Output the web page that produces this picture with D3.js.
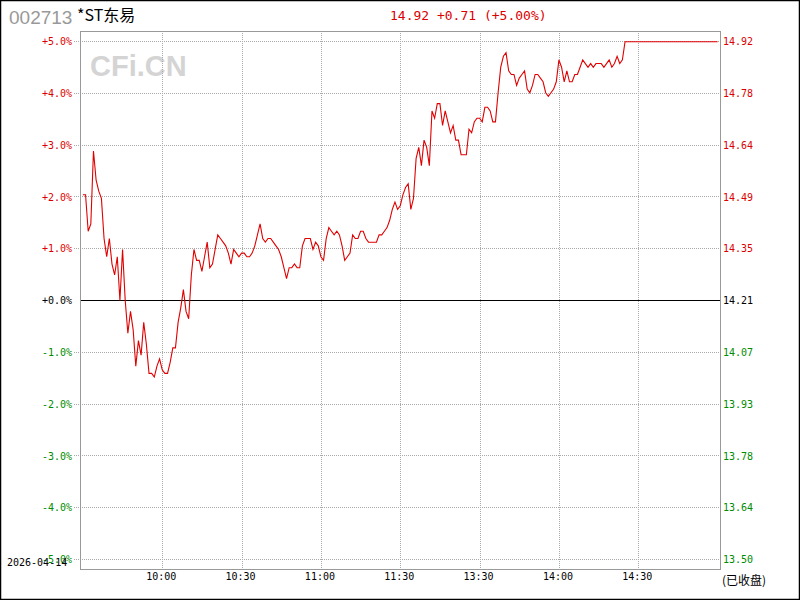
<!DOCTYPE html>
<html><head><meta charset="utf-8">
<script src="https://cdn.jsdelivr.net/npm/d3@7"></script>
<style>body{margin:0;background:#fff}svg{display:block}</style>
</head><body>
<script>
const stockCode = "002713";
const stockName = "*ST东易";
const prevClose = 14.21;
const quoteText = "14.92 +0.71 (+5.00%)";
const tradeDate = "2026-04-14";
const statusText = "(已收盘)";
const watermark = "CFi.CN";
const timeLabels = ["10:00","10:30","11:00","11:30","13:30","14:00","14:30"];
const timeLabelIndex = [30,60,90,120,150,180,210];
const pctTicks = [5,4,3,2,1,0,-1,-2,-3,-4,-5];
const pctLabels = ["+5.0%","+4.0%","+3.0%","+2.0%","+1.0%","+0.0%","-1.0%","-2.0%","-3.0%","-4.0%","-5.0%"];
const priceLabels = ["14.92","14.78","14.64","14.49","14.35","14.21","14.07","13.93","13.78","13.64","13.50"];
// one price per minute, 9:30-11:30 then 13:01-15:00
const prices = [
14.50,14.50,14.40,14.42,14.62,14.54,14.51,14.49,14.38,14.33,
14.38,14.31,14.28,14.33,14.21,14.35,14.21,14.12,14.18,14.13,
14.03,14.10,14.06,14.15,14.09,14.01,14.01,14.00,14.03,14.05,
14.02,14.01,14.01,14.04,14.08,14.08,14.15,14.19,14.24,14.18,
14.16,14.28,14.35,14.32,14.32,14.29,14.33,14.37,14.30,14.31,
14.35,14.39,14.38,14.37,14.36,14.34,14.31,14.35,14.34,14.33,
14.34,14.34,14.33,14.33,14.34,14.36,14.39,14.42,14.38,14.37,
14.38,14.38,14.37,14.36,14.35,14.33,14.30,14.27,14.30,14.30,
14.31,14.30,14.30,14.36,14.38,14.38,14.38,14.35,14.37,14.36,
14.33,14.32,14.38,14.41,14.40,14.39,14.40,14.39,14.36,14.32,
14.33,14.34,14.39,14.38,14.38,14.40,14.40,14.38,14.37,14.37,
14.37,14.37,14.39,14.39,14.40,14.41,14.43,14.46,14.48,14.46,
14.47,14.50,14.52,14.53,14.46,14.49,14.60,14.63,14.58,14.65,
14.63,14.58,14.73,14.71,14.75,14.75,14.69,14.73,14.70,14.67,
14.69,14.65,14.65,14.61,14.61,14.61,14.68,14.67,14.70,14.71,
14.71,14.70,14.74,14.74,14.73,14.70,14.70,14.78,14.85,14.88,
14.89,14.84,14.83,14.83,14.80,14.82,14.83,14.84,14.79,14.78,
14.80,14.83,14.83,14.82,14.81,14.78,14.77,14.78,14.79,14.81,
14.87,14.85,14.81,14.84,14.81,14.81,14.83,14.83,14.85,14.87,
14.86,14.85,14.86,14.85,14.86,14.86,14.86,14.85,14.86,14.87,
14.85,14.86,14.88,14.86,14.87,14.92,14.92,14.92,14.92,14.92,
14.92,14.92,14.92,14.92,14.92,14.92,14.92,14.92,14.92,14.92,
14.92,14.92,14.92,14.92,14.92,14.92,14.92,14.92,14.92,14.92,
14.92,14.92,14.92,14.92,14.92,14.92,14.92,14.92,14.92,14.92,
14.92
];

const W = 800, H = 600;
const RED = "#dd0000", GREEN = "#008c00";
const mono = "'DejaVu Sans Mono', 'Liberation Mono', monospace";
const svg = d3.select("body").append("svg").attr("width", W).attr("height", H);

svg.append("rect").attr("x",0).attr("y",0).attr("width",W).attr("height",H).attr("fill","#fff");
svg.append("rect").attr("x",0.5).attr("y",0.5).attr("width",W-1).attr("height",H-1)
  .attr("fill","none").attr("stroke","#000").attr("stroke-width",1.5);

const x = d3.scaleLinear().domain([0, 240]).range([82.9, 717.6]);
const y = d3.scaleLinear().domain([-5, 5]).range([559.5, 41.5]);
const colorOf = v => v > 0 ? RED : (v < 0 ? GREEN : "#000");

// watermark
svg.append("text").attr("x", 90).attr("y", 76).text(watermark)
  .attr("font-family","'Liberation Sans', Arial, sans-serif").attr("font-weight","bold")
  .attr("font-size", 29).attr("fill", "#d4d4d4");

// horizontal grid
svg.append("g").selectAll("line").data(pctTicks.filter(d => d !== 0)).join("line")
  .attr("x1", 74).attr("x2", 720).attr("y1", d => y(d)).attr("y2", d => y(d))
  .attr("stroke", "#aaa").attr("stroke-dasharray", "1,1").attr("shape-rendering","crispEdges");
// vertical grid
svg.append("g").selectAll("line").data(timeLabelIndex).join("line")
  .attr("x1", d => Math.round(x(d)) + 0.5).attr("x2", d => Math.round(x(d)) + 0.5)
  .attr("y1", 31).attr("y2", 569)
  .attr("stroke", "#aaa").attr("stroke-dasharray", "1,1").attr("shape-rendering","crispEdges");

// frame
svg.append("rect").attr("x", 80.5).attr("y", 31.5).attr("width", 640).attr("height", 538)
  .attr("fill", "none").attr("stroke", "#999").attr("shape-rendering","crispEdges");
// zero line
svg.append("line").attr("x1", 81).attr("x2", 720).attr("y1", y(0)).attr("y2", y(0))
  .attr("stroke", "#000").attr("shape-rendering","crispEdges");

// price line
const line = d3.line().x((d, i) => x(i)).y(d => y((d - prevClose) / prevClose * 100));
svg.append("path").datum(prices).attr("d", line)
  .attr("fill", "none").attr("stroke", "#e00000").attr("stroke-width", 1.1);

// left axis
const gl = svg.append("g").attr("transform", "translate(74,0)")
  .call(d3.axisLeft(y).tickValues(pctTicks).tickSize(0).tickPadding(2)
    .tickFormat((d, i) => pctLabels[i]));
gl.select(".domain").remove();
gl.selectAll("text").attr("font-family", mono).attr("font-size", 10)
  .attr("fill", d => colorOf(d));

// right axis
const gr = svg.append("g").attr("transform", "translate(721,0)")
  .call(d3.axisRight(y).tickValues(pctTicks).tickSize(0).tickPadding(2)
    .tickFormat((d, i) => priceLabels[i]));
gr.select(".domain").remove();
gr.selectAll("text").attr("font-family", mono).attr("font-size", 10)
  .attr("fill", d => colorOf(d));

// bottom axis
const gb = svg.append("g").attr("transform", "translate(-1.5,569)")
  .call(d3.axisBottom(x).tickValues(timeLabelIndex).tickSize(0).tickPadding(4)
    .tickFormat((d, i) => timeLabels[i]));
gb.select(".domain").remove();
gb.selectAll("text").attr("font-family", mono).attr("font-size", 10).attr("fill", "#000");

// date & status
svg.append("text").attr("x", 7).attr("y", 566).text(tradeDate)
  .attr("font-family", mono).attr("font-size", 10).attr("fill", "#000");
svg.append("text").attr("x", 722).attr("y", 585).text(statusText)
  .attr("font-family", "'Noto Sans CJK SC', sans-serif").attr("font-size", 12).attr("fill", "#000");

// header
svg.append("text").attr("x", 9).attr("y", 24).text(stockCode)
  .attr("font-family", "'Liberation Sans', Arial, sans-serif").attr("font-size", 19).attr("fill", "#999");
svg.append("text").attr("x", 77).attr("y", 21).text(stockName)
  .attr("font-family", "'Noto Sans CJK SC', sans-serif").attr("font-size", 16).attr("fill", "#000");
svg.append("text").attr("x", 390).attr("y", 19.5).text(quoteText)
  .attr("font-family", mono).attr("font-size", 13).attr("fill", RED);
</script>
</body></html>
